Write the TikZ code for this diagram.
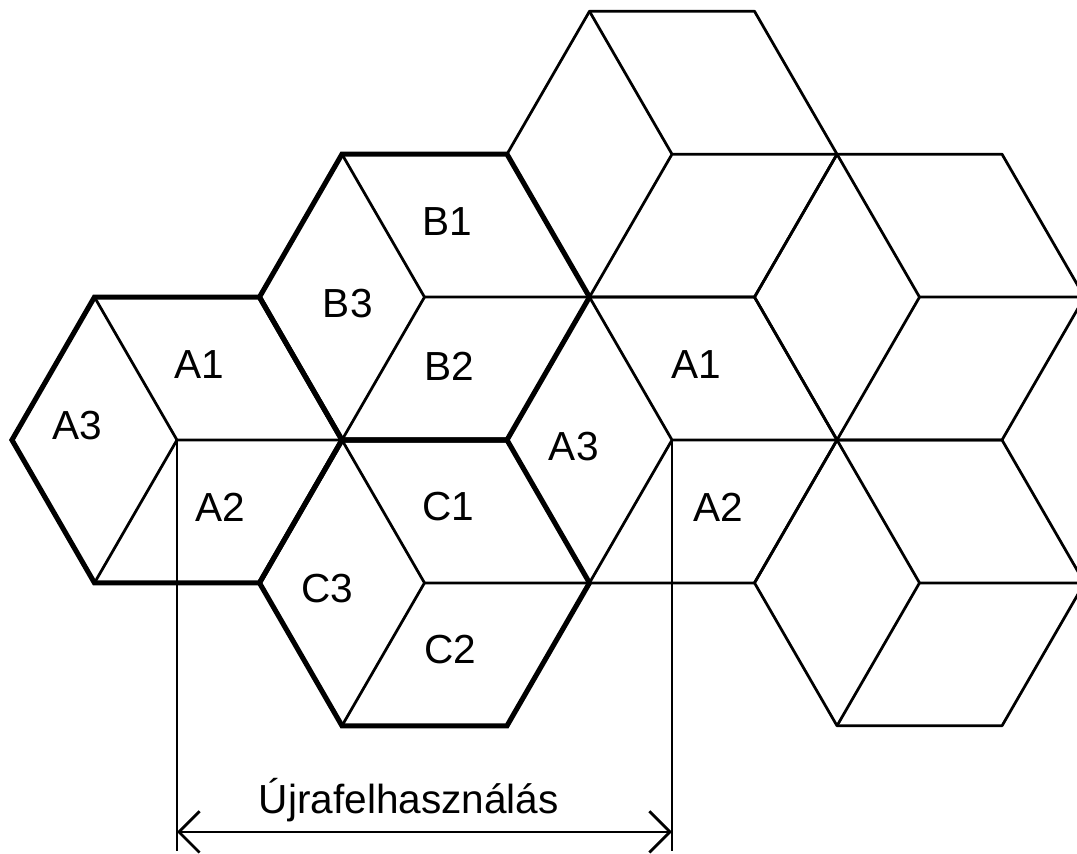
\documentclass[tikz,border=0pt]{standalone}
\usepackage{fontspec}
\setmainfont{Liberation Sans}
\usetikzlibrary{arrows.meta,calc}
\tikzset{
  cell/.style={line width=0.95pt,line join=round},
  cluster/.style={line width=1.75pt,line join=miter},
  lab/.style={font=\fontsize{14}{17}\selectfont,inner sep=0pt},
  dim/.style={line width=0.95pt},
  dimarr/.style={dim,{Straight Barb[length=2.5mm,width=5mm]}-{Straight Barb[length=2.5mm,width=5mm]}},
}

\begin{document}
\begin{tikzpicture}[x=1mm,y=1mm]
\useasboundingbox (-21.45,-50.06) rectangle (109.09,53.33);
% cell centres, R = 20
\coordinate (A) at (0,0);
\coordinate (B) at (30,17.32);
\coordinate (C) at (30,-17.32);
\coordinate (D) at (60,0);
\coordinate (E) at (60,34.64);
\coordinate (F) at (90,17.32);
\coordinate (G) at (90,-17.32);
% every cell split into three sectors
\foreach \c in {A,B,C,D,E,F,G} {
  \draw[cell] (\c) +(0:20) -- +(60:20) -- +(120:20) -- +(180:20) -- +(240:20) -- +(300:20) -- cycle;
  \draw[cell] (\c) -- +(120:20) (\c) -- +(0:20) (\c) -- +(240:20);
}
% cluster of three cells
\foreach \c in {A,B,C}
  \draw[cluster] (\c) +(0:20) -- +(60:20) -- +(120:20) -- +(180:20) -- +(240:20) -- +(300:20) -- cycle;
% sector names
\node[lab] (a1) at ($(A)+(2.7,9.1)$) {A1};
\node[lab] (a2) at ($(A)+(5.3,-8.2)$) {A2};
\node[lab] (a3) at ($(A)+(-12.1,1.7)$) {A3};
\node[lab] (b1) at ($(B)+(2.8,9.1)$) {B1};
\node[lab] (b2) at ($(B)+(3.0,-8.4)$) {B2};
\node[lab] (b3) at ($(B)+(-9.3,-0.8)$) {B3};
\node[lab] (c1) at ($(C)+(2.9,9.2)$) {C1};
\node[lab] (c2) at ($(C)+(3.1,-8.1)$) {C2};
\node[lab] (c3) at ($(C)+(-11.8,-0.7)$) {C3};
\node[lab] (d1) at ($(D)+(2.9,9.2)$) {A1};
\node[lab] (d2) at ($(D)+(5.6,-8.2)$) {A2};
\node[lab] (d3) at ($(D)+(-11.9,-0.8)$) {A3};
% reuse distance
\coordinate (dl) at (0,-49.8);
\coordinate (dr) at (60,-49.8);
\coordinate (al) at (0,-47.5);
\coordinate (ar) at (60,-47.5);
\draw[dim] (A) -- (dl);
\draw[dim] (D) -- (dr);
\draw[dimarr] (al) -- (ar);
\node[lab,anchor=base] (reuse) at (28.1,-45.3) {Újrafelhasználás};
\end{tikzpicture}
\end{document}
